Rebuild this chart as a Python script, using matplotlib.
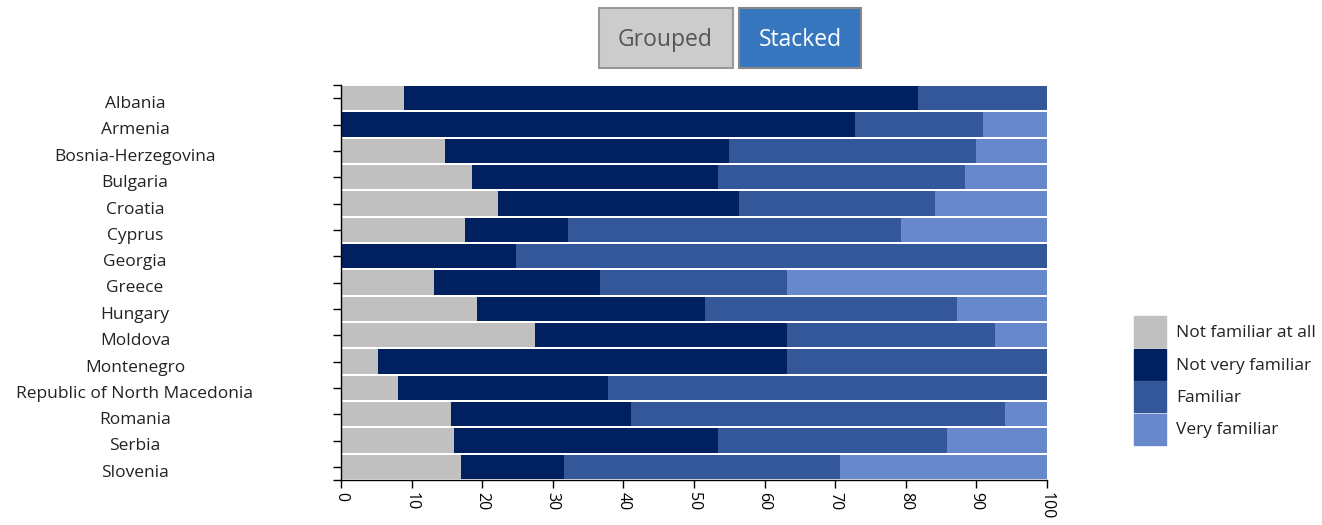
import numpy as np
import matplotlib.pyplot as plt
from matplotlib.patches import Rectangle

plt.rcParams['font.family'] = ['Open Sans', 'DejaVu Sans']

countries = ['Albania', 'Armenia', 'Bosnia-Herzegovina', 'Bulgaria', 'Croatia',
             'Cyprus', 'Georgia', 'Greece', 'Hungary', 'Moldova', 'Montenegro',
             'Republic of North Macedonia', 'Romania', 'Serbia', 'Slovenia']

not_at_all = [8.9, 0, 14.7, 18.6, 22.2, 17.6, 0, 13.2, 19.3, 27.5, 5.2, 8.1, 15.6, 16.0, 17.0]
not_very = [72.8, 72.8, 40.3, 34.8, 34.2, 14.6, 24.8, 23.5, 32.3, 35.7, 58.0, 29.7, 25.5, 37.4, 14.6]
familiar = [18.3, 18.1, 34.9, 35.0, 27.7, 47.1, 75.2, 26.5, 35.7, 29.4, 36.8, 62.2, 53.0, 32.4, 39.1]
very = [0, 9.1, 10.1, 11.6, 15.9, 20.7, 0, 36.8, 12.7, 7.4, 0, 0, 5.9, 14.2, 29.3]

series = ['Not familiar at all', 'Not very familiar', 'Familiar', 'Very familiar']
colors = ['#c0c0c0', '#002060', '#34579a', '#6788cb']

W, H = 1322, 525
fig = plt.figure(figsize=(W / 100, H / 100), dpi=100)
ax = fig.add_axes([341 / W, 1 - 480 / H, (1047 - 341) / W, (480 - 85) / H])

y = np.arange(len(countries))
left = np.zeros(len(countries))
for vals, c, name in zip([not_at_all, not_very, familiar, very], colors, series):
    ax.barh(y, vals, left=left, height=0.92, color=c, label=name)
    left += np.array(vals)

ax.set_xlim(0, 100)
ax.set_ylim(len(countries) - 0.5, -0.5)
ax.set_yticks(y)
ax.set_yticklabels([])
ax.set_yticks([-0.5, len(countries) - 0.5], minor=True)
ax.tick_params(axis='y', which='both', length=6, width=1, direction='out')
ax.set_xticks(np.arange(0, 101, 10))
ax.set_xticklabels([str(v) for v in range(0, 101, 10)], rotation=-90, fontsize=11.5)
ax.tick_params(axis='x', length=6, width=1, pad=3)
for s in ['top', 'right']:
    ax.spines[s].set_visible(False)
ax.spines['left'].set_linewidth(1)
ax.spines['bottom'].set_linewidth(1)

# country labels, centred in the left margin
for i, name in enumerate(countries):
    yy = 1 - (85 + (i + 0.5) * (480 - 85) / len(countries) + 6) / H
    fig.text(135 / W, yy, name, ha='center', va='center', fontsize=12.5, color='#222222')

# legend
for i, (name, c) in enumerate(zip(series, colors)):
    top = 315 + i * 32.5
    fig.patches.append(Rectangle((1134 / W, 1 - (top + 32) / H), 32 / W, 31 / H,
                                 transform=fig.transFigure, color=c))
    fig.text(1176 / W, 1 - (top + 18) / H, name, ha='left', va='center',
             fontsize=12.5, color='#222222')

# toggle buttons
fig.patches.append(Rectangle((599 / W, 1 - 68 / H), 134 / W, 60 / H, transform=fig.transFigure,
                             facecolor='#cccccc', edgecolor='#999999', linewidth=1.5))
fig.text(665 / W, 1 - 40 / H, 'Grouped', ha='center', va='center', fontsize=16.5, color='#555555')
fig.patches.append(Rectangle((739 / W, 1 - 68 / H), 122 / W, 60 / H, transform=fig.transFigure,
                             facecolor='#3777c0', edgecolor='#888888', linewidth=1.5))
fig.text(800 / W, 1 - 40 / H, 'Stacked', ha='center', va='center', fontsize=16.5, color='white')

fig.savefig('out.png', dpi=100)
